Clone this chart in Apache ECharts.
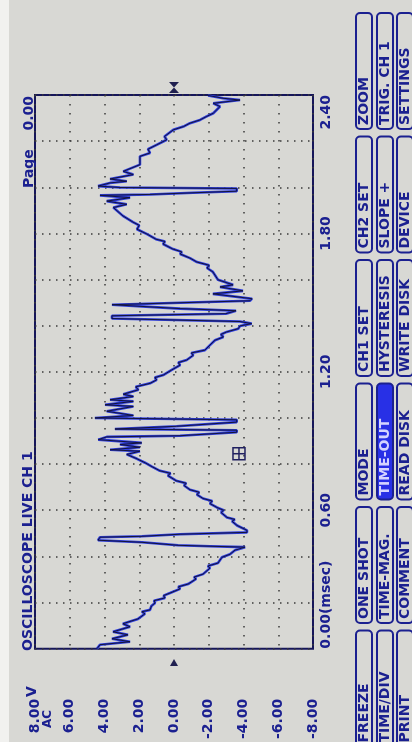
<!DOCTYPE html>
<html><head><meta charset="utf-8">
<script src="https://cdn.jsdelivr.net/npm/echarts@6/dist/echarts.min.js"></script>
<style>html,body{margin:0;padding:0;background:#d8d8d4;}#chart{width:412px;height:742px;}</style>
</head><body><div id="chart"></div>
<script>
// time in msec (one line per trace segment)
const timeMs = [
0.000,0.017,0.030,0.043,0.060,0.073,0.095,0.108,0.129,
0.151,0.160,0.168,0.185,0.198,0.208,0.220,0.230,0.241,0.259,0.268,0.280,0.302,0.310,0.323,0.349,0.358,0.371,0.396,0.409,0.427,0.440,
0.444,0.448,0.461,0.470,0.483,0.487,0.496,0.504,0.513,
0.534,0.552,0.560,0.569,0.590,0.600,0.612,0.629,0.640,0.651,0.668,0.678,0.689,0.707,0.717,0.728,0.750,0.760,0.771,0.789,0.806,0.823,
0.842,0.856,0.862,0.873,0.885,0.892,0.906,0.918,0.923,0.938,0.947,0.952,0.964,0.982,0.992,1.000,
1.011,1.029,1.050,1.057,1.072,1.079,1.093,1.103,1.122,1.135,1.150,1.165,1.175,1.186,1.208,
1.229,1.240,1.251,1.272,1.282,1.294,1.316,1.337,1.351,1.362,1.373,1.387,1.399,1.409,
1.418,1.431,1.443,1.452,1.465,1.474,1.491,1.499,1.508,1.517,1.538,1.551,1.568,1.577,1.599,
1.633,1.650,1.662,1.676,1.693,1.711,1.720,1.732,1.754,1.765,1.775,1.797,1.818,1.835,1.849,1.876,1.912,
1.926,1.940,1.955,1.965,1.969,1.976,1.983,1.995,1.999,2.005,2.019,2.026,2.036,2.055,2.069,2.098,
2.134,2.149,2.165,2.184,2.206,2.220,2.249,2.263,2.278,2.292,2.307,2.321,2.350,2.364,2.378,2.386,2.398
];
// voltage in V (same layout as timeMs)
const voltage = [
4.43,4.26,2.53,3.57,2.65,3.51,2.53,2.94,2.07,
1.67,1.85,1.38,1.30,1.09,1.15,0.52,0.60,0.23,-0.35,-0.25,-0.81,-1.27,-1.15,-1.67,-2.07,-1.95,-2.53,-2.76,-3.22,-3.51,-4.09,
-2.07,-0.23,1.84,4.37,4.26,1.84,-0.35,-4.20,-4.20,
-3.63,-3.34,-3.50,-3.05,-2.71,-2.85,-2.47,-2.07,-2.20,-1.67,-1.32,-1.45,-0.92,-0.58,-0.70,-0.12,0.35,0.20,0.81,1.27,1.67,2.13,
2.72,1.96,3.68,1.96,3.11,1.86,4.36,3.87,-0.35,-3.61,-3.61,3.40,-0.15,-3.61,-3.61,4.55,
2.34,3.87,2.34,3.97,2.34,3.68,2.34,2.92,2.05,2.20,1.38,1.00,1.10,0.62,0.13,
-0.35,-0.25,-0.73,-1.11,-1.00,-1.78,-2.07,-2.36,-2.84,-2.70,-3.03,-3.70,-3.80,-4.47,
-3.80,3.57,3.57,-2.99,-3.57,-0.35,3.57,3.57,-4.37,-4.49,-2.24,-3.97,-2.65,-3.40,-2.53,
-2.24,-1.90,-2.02,-1.32,-0.92,-0.35,-0.45,0.06,0.63,0.52,1.04,1.55,2.13,2.00,2.36,2.94,3.49,
2.72,3.87,2.53,4.26,1.38,-1.09,-3.61,-3.61,3.11,4.37,3.68,2.72,3.68,2.34,2.92,1.96,
1.96,1.38,1.50,1.00,0.42,0.55,0.04,-0.54,-0.92,-1.50,-1.88,-2.26,-2.65,-2.26,-3.80,-2.82,-1.96
];
const voltTickLabels = ['-8.00','-6.00','-4.00','-2.00','0.00','2.00','4.00','6.00','8.00'];
const timeTickLabels = ['0.00(msec)','0.60','1.20','1.80','2.40'];
const titleText = 'OSCILLOSCOPE LIVE CH 1';
const pageLabel = 'Page';
const pageValue = '0.00';
const unitText = 'V';
const couplingText = 'AC';
const buttonCols = [
  ['ZOOM','CH2 SET','CH1 SET','MODE','ONE SHOT','FREEZE'],
  ['TRIG. CH 1','SLOPE +','HYSTERESIS','TIME-OUT','TIME-MAG.','TIME/DIV'],
  ['SETTINGS','DEVICE','WRITE DISK','READ DISK','COMMENT','PRINT']
];
const activeButton = 'TIME-OUT';
const cursorPoint = [-3.74, 0.845];

const NAVY = '#1b2090';
const FONT = '"DejaVu Sans", sans-serif';
const traceData = timeMs.map((t, i) => [voltage[i], t]);

const chart = echarts.init(document.getElementById('chart'));
chart.setOption({
  backgroundColor: '#d8d8d4',
  animation: false,
  grid: {left: 35, right: 99, top: 95, bottom: 90, show: true, borderColor: '#16165a', borderWidth: 2, backgroundColor: 'transparent'},
  xAxis: {
    type: 'value', min: -8, max: 8, interval: 2, inverse: true, position: 'bottom',
    axisLine: {show: false}, axisTick: {show: false},
    splitLine: {show: true, lineStyle: {color: '#3a3a3a', width: 1.5, type: [1.5, 7.5]}},
    axisLabel: {rotate: 90, margin: 50, color: NAVY, fontFamily: FONT, fontWeight: 'bold', fontSize: 14,
      formatter: v => voltTickLabels[Math.round((v + 8) / 2)]}
  },
  yAxis: {
    type: 'value', min: 0, max: 2.4, interval: 0.2, position: 'right',
    axisLine: {show: false}, axisTick: {show: false},
    splitLine: {show: true, lineStyle: {color: '#3a3a3a', width: 1.5, type: [1.5, 5.5]}},
    axisLabel: {rotate: 90, margin: 6, color: NAVY, fontFamily: FONT, fontWeight: 'bold', fontSize: 14,
      alignMinLabel: 'left', alignMaxLabel: 'right',
      formatter: v => { const k = Math.round(v / 0.6); return Math.abs(v - k * 0.6) < 1e-6 ? timeTickLabels[k] : ''; }}
  },
  series: [
    {type: 'line', data: traceData, showSymbol: false, lineStyle: {color: '#2f3fe0', width: 2.6}, z: 2},
    {type: 'line', data: traceData, showSymbol: false, lineStyle: {color: '#141438', width: 1}, z: 3}
  ]
});

function rtext(x, y, text, opts) {
  opts = opts || {};
  return {type: 'text', x: x, y: y, rotation: Math.PI / 2, z: 10,
    style: {text: text, font: 'bold ' + (opts.size || 14) + 'px ' + FONT, fill: opts.fill || NAVY,
      align: opts.align || 'left', textAlign: opts.align || 'left', verticalAlign: 'middle', textVerticalAlign: 'middle'}};
}
const zeroX = chart.convertToPixel({xAxisIndex: 0}, 0);
const cur = chart.convertToPixel({gridIndex: 0}, cursorPoint);
const gTop = 95, gBot = 652;
const els = [];
els.push({type: 'rect', shape: {x: 0, y: 0, width: 9, height: 742}, style: {fill: '#f1f1ef'}, z: 1});
els.push(rtext(28, gBot - 1, titleText, {size: 14}));
els.push(rtext(29, 188, pageLabel, {size: 14}));
els.push(rtext(29, gTop + 1, pageValue, {size: 14, align: 'right'}));
els.push(rtext(32, 697, unitText, {size: 14}));
els.push(rtext(48, 728, couplingText, {size: 12}));
els.push({type: 'polygon', shape: {points: [[zeroX - 5, 82], [zeroX + 5, 82], [zeroX, 87.5]]}, style: {fill: '#202050'}, z: 10});
els.push({type: 'polygon', shape: {points: [[zeroX - 5, 93], [zeroX + 5, 93], [zeroX, 87.5]]}, style: {fill: '#202050'}, z: 10});
els.push({type: 'polygon', shape: {points: [[zeroX - 4, 666], [zeroX + 4, 666], [zeroX, 659]]}, style: {fill: '#202050'}, z: 10});
els.push({type: 'rect', shape: {x: cur[0] - 6, y: cur[1] - 6, width: 12, height: 12}, style: {fill: 'none', stroke: '#202060', lineWidth: 1.5}, z: 10});
els.push({type: 'line', shape: {x1: cur[0] - 6, y1: cur[1], x2: cur[0] + 6, y2: cur[1]}, style: {stroke: '#202060', lineWidth: 1.5}, z: 10});
els.push({type: 'line', shape: {x1: cur[0], y1: cur[1] - 6, x2: cur[0], y2: cur[1] + 6}, style: {stroke: '#202060', lineWidth: 1.5}, z: 10});
const colX = [356, 377, 397];
const rowY = [13, 136.5, 260, 383.5, 507, 630.5];
buttonCols.forEach((col, c) => {
  col.forEach((label, r) => {
    const active = label === activeButton;
    els.push({type: 'rect', shape: {x: colX[c], y: rowY[r], width: 16, height: 116, r: 4},
      style: {fill: active ? '#2830e6' : '#d8d8d4', stroke: NAVY, lineWidth: 2}, z: 5});
    els.push(rtext(colX[c] + 8, rowY[r] + 112, label, {size: 14, fill: active ? '#d4d4ff' : NAVY}));
  });
});
chart.setOption({graphic: {elements: els}});
</script></body></html>
